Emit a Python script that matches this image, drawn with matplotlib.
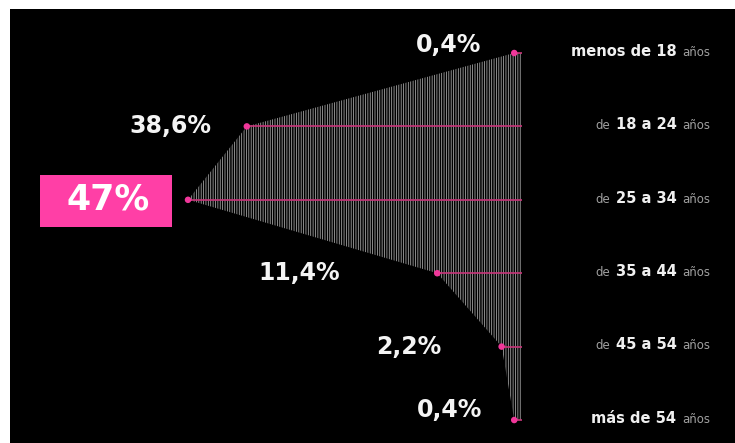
import matplotlib
matplotlib.use("Agg")
import matplotlib.pyplot as plt
from matplotlib.patches import Rectangle

# age groups (top to bottom) and share of users in %
groups_prefix = ["", "de", "de", "de", "de", ""]
groups_main = ["menos de 18", "18 a 24", "25 a 34", "35 a 44", "45 a 54", "más de 54"]
groups_suffix = "años"
shares = [0.4, 38.6, 47.0, 11.4, 2.2, 0.4]
share_labels = ["0,4%", "38,6%", "47%", "11,4%", "2,2%", "0,4%"]

# label offsets from each dot, in points (layout only)
label_offsets = [(-47.5, 5.8), (-54.7, 0), (-57.6, 0), (-99.4, 0), (-67, 0), (-46.8, 7.2)]

# guide lines end a little right of zero
BASELINE = -0.7

PINK = "#f0379a"
LINE_PINK = "#c8357a"
HATCH = "#b0b0b0"

plt.rcParams["hatch.linewidth"] = 0.55
plt.rcParams["font.family"] = ["DejaVu Sans"]

fig = plt.figure(figsize=(7.35, 4.43), dpi=100, facecolor="white")
ax = fig.add_axes([0, 0, 1, 1])
ax.set_facecolor("white")
ax.set_xlim(73.86, -31.14)
ax.set_ylim(5.313, -0.722)
ax.axis("off")

# black panel inside the thin white margin
ax.add_patch(Rectangle((10 / 735, 0), 725 / 735, 434 / 443, transform=ax.transAxes,
                       facecolor="black", edgecolor="none", zorder=0))

rows = list(range(len(shares)))

# hatched funnel shape
ax.fill_betweenx(rows, shares, BASELINE, facecolor="black", edgecolor=HATCH,
                 linewidth=0, hatch="|" * 7, zorder=1)

# pink guide lines and dots
ax.hlines(rows, shares, BASELINE, color=LINE_PINK, linewidth=1.2, zorder=2)
ax.scatter(shares, rows, s=22, color=PINK, edgecolors="none", zorder=3)

# percentage labels
for i, (v, lab, off) in enumerate(zip(shares, share_labels, label_offsets)):
    if i == 2:
        continue
    ax.annotate(lab, xy=(v, i), xytext=off, textcoords="offset points",
                ha="center", va="center", color="#f4f4f4", fontsize=17,
                fontweight="bold", zorder=4)

# highlighted max value in a pink box
ax.add_patch(Rectangle((40 / 735, 1 - 227 / 443), 132 / 735, 52 / 443,
                       transform=ax.transAxes, facecolor="#ff3fa6",
                       edgecolor="none", zorder=3))
ax.annotate(share_labels[2], xy=(shares[2], 2), xytext=label_offsets[2],
            textcoords="offset points", ha="center", va="center",
            color="white", fontsize=25, fontweight="bold", zorder=4)

# age group labels on the right, built right to left
for i in rows:
    suf = ax.annotate(groups_suffix, xy=(710 / 735, i), xycoords=(ax.transAxes, "data"),
                      xytext=(0, -2), textcoords="offset points", ha="right",
                      va="baseline", color="#a0a0a0", fontsize=8.5, zorder=4)
    main = ax.annotate(groups_main[i], xy=(0, i), xycoords=(suf, "data"),
                       xytext=(-4, -2), textcoords="offset points", ha="right",
                       va="baseline", color="#f0f0f0", fontsize=10.5,
                       fontweight="bold", zorder=4)
    if groups_prefix[i]:
        ax.annotate(groups_prefix[i], xy=(0, i), xycoords=(main, "data"),
                    xytext=(-4, -2), textcoords="offset points", ha="right",
                    va="baseline", color="#a0a0a0", fontsize=8.5, zorder=4)

fig.savefig("out.png", dpi=100, facecolor="white")
